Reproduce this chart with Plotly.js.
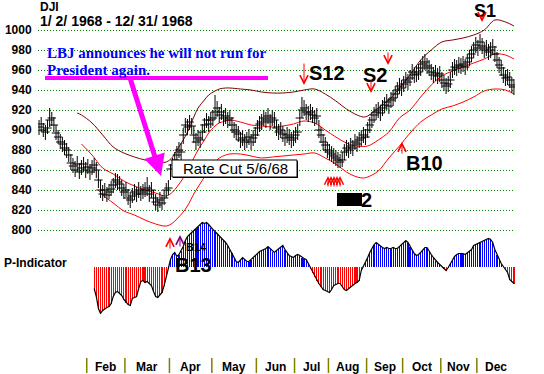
<!DOCTYPE html>
<html><head><meta charset="utf-8">
<script src="https://cdn.plot.ly/plotly-3.0.1.min.js"></script>
<style>html,body{margin:0;padding:0;background:#fff}</style>
</head><body><div id="chart" style="width:544px;height:374px"></div>
<script>
// ---- DJI daily bars 1968 (trading-day index 0..224) ----
const closes=[
903,906,900,898,902,910,912,905,897,893,
888,886,882,880,875,867,864,860,866,858,
862,866,860,863,858,862,865,860,850,840,
836,840,835,838,841,845,850,848,846,842,
838,840,832,830,834,838,836,840,836,838,
840,842,836,840,832,828,825,830,827,832,
840,842,861,865,870,875,880,878,895,905,
903,908,904,895,888,892,890,898,905,910,
906,910,912,918,922,915,918,912,914,910,
912,905,900,898,896,890,892,888,890,893,
888,892,895,902,906,908,912,910,914,908,
912,910,902,898,900,896,892,895,893,890,
892,895,898,912,920,922,918,916,918,915,
912,914,900,895,888,885,880,878,876,874,
872,870,868,870,878,882,880,884,882,888,
886,890,892,895,893,900,905,910,915,918,
920,917,922,925,928,924,930,932,936,940,
944,942,946,950,948,952,958,955,956,958,
962,966,968,964,962,958,955,957,954,956,
950,947,944,946,950,960,963,962,965,964,
966,963,968,972,976,980,985,982,988,984,
980,982,978,980,983,976,970,965,962,955,
952,953,950,945,943];
const highs=[
910,913,907,905,910,922,918,913,905,900,
896,893,890,887,883,876,872,869,874,867,
870,873,868,871,866,870,872,868,860,850,
845,847,843,846,849,852,857,856,854,850,
846,848,841,838,842,846,843,848,844,846,
848,853,845,848,840,836,833,838,835,840,
847,850,866,872,878,884,888,887,902,912,
911,915,912,904,897,900,898,906,912,917,
914,918,920,935,929,923,926,920,922,918,
920,913,908,906,904,898,900,896,898,901,
896,900,903,910,914,916,920,918,922,916,
920,918,910,906,908,904,900,903,901,898,
900,903,906,920,933,930,926,924,926,923,
920,922,910,903,896,893,888,886,884,882,
880,878,876,878,886,890,888,892,890,896,
894,898,900,903,901,908,913,918,923,926,
928,925,930,933,936,932,938,940,944,948,
952,950,954,958,956,960,966,963,964,966,
970,974,976,972,970,966,963,965,962,964,
958,955,952,954,958,968,971,970,973,972,
974,971,976,980,984,988,993,990,996,992,
988,990,986,988,991,984,978,973,970,963,
960,961,958,953,951];
const lows=[
895,898,893,890,896,903,904,898,890,886,
881,878,875,872,868,860,857,853,858,851,
855,858,852,856,850,855,857,852,842,832,
829,832,828,831,834,837,842,840,839,834,
831,833,825,822,827,830,828,832,829,831,
833,834,828,832,825,820,818,822,820,825,
832,835,850,857,862,867,872,870,886,897,
895,900,896,887,880,884,882,890,897,902,
898,902,904,910,913,907,910,904,906,902,
904,897,892,890,888,882,884,880,882,885,
880,884,887,894,898,900,904,902,906,900,
904,902,894,890,892,888,884,887,885,882,
884,887,890,904,912,914,910,908,910,907,
904,906,892,887,880,877,872,870,868,866,
864,862,862,863,870,874,872,876,874,880,
878,882,884,887,885,892,897,902,907,910,
912,909,914,917,920,916,922,924,928,932,
936,934,938,942,940,944,950,947,948,950,
954,958,960,956,954,950,947,949,946,948,
942,939,936,938,942,952,955,954,957,956,
958,955,960,964,968,972,977,974,980,976,
972,974,970,972,975,968,962,957,954,947,
944,945,942,937,935];

// ---- bands ----
const upperDays=[18,20,25,30,35,40,45,50,55,60,63,65,68,70,73,75,78,80,83,85,88,90,95,100,105,110,115,120,125,130,135,140,145,150,153,155,160,165,170,175,180,185,190,195,200,205,210,215,220,224];
const upperVals=[917,915,907,895,883,877,873,870,868,868,873,880,890,898,913,922,930,935,939,941,942,942,941,940,938,937,937,938,940,941,936,929,921,915,913,914,922,930,942,955,970,980,988,990,992,995,1000,1010,1008,1004];
const middleDays=[20,25,30,35,40,45,50,55,60,63,65,68,70,73,75,78,80,83,85,88,90,95,100,105,110,115,120,125,130,135,140,145,150,155,160,165,170,175,180,185,190,195,200,205,210,215,220,224];
const middleVals=[886,875,862,856,849,844,840,837,834,838,843,852,860,872,880,890,897,904,907,909,910,908,905,904,903,904,906,909,907,900,893,887,884,884,890,898,912,920,933,945,954,959,963,967,971,976,975,971];
const lowerDays=[28,30,35,40,45,50,55,60,63,65,68,70,73,75,78,80,83,85,88,90,95,100,105,110,115,120,125,130,135,140,145,150,153,155,160,165,170,175,180,185,190,195,200,205,210,215,220,224];
const lowerVals=[840,835,827,819,815,810,806,804,807,811,818,824,836,843,853,860,868,872,875,876,876,874,872,873,874,875,876,877,872,866,858,853,852,853,859,872,884,897,908,915,921,924,928,933,939,941,940,936];

// ---- P-Indicator (from day 26) ----
const pStart=26;
const pVals=[
-22,-30,-42,-47,-44,-42,-41,-40,-37,-30,
-26,-25,-27,-29,-33,-36,-38,-39,-32,-31,
-30,-22,-15,-14,-16,-15,-17,-19,-25,-30,
-31,-29,-26,-19,-10,-2,7,12,14,10,
12,16,20,26,30,32,34,36,38,40,
42,44,43,44,42,39,37,35,33,30,
28,26,24,21,17,14,9,5,4,7,
9,7,5,5,7,10,12,14,15,16,
17,18,20,18,15,14,16,18,20,21,
17,14,11,10,9,11,12,11,9,8,
7,3,-2,-6,-10,-14,-17,-20,-23,-24,
-25,-26,-23,-19,-18,-17,-17,-20,-23,-24,
-22,-20,-18,-17,-16,-14,-4,0,4,9,
14,18,22,24,22,21,19,18,19,18,
18,19,18,18,20,23,24,26,24,20,
17,13,11,12,14,17,19,19,15,12,
9,6,4,2,0,-2,-4,-1,3,6,
10,12,13,13,13,12,14,16,17,21,
22,23,24,25,26,27,28,27,24,17,
12,7,3,0,-3,-6,-13,-15,-17];

// ---- months ----
const monthNames=['Feb','Mar','Apr','May','Jun','Jul','Aug','Sep','Oct','Nov','Dec'];
const monthFirstDay=[23,41,62,82,103,121,137,155,172,190,207];
const lastDay=224;
const priceTicks=[800,820,840,860,880,900,920,940,960,980,1000];

// ---- geometry helpers (for annotation placement) ----
const L=38,R=515,T=10,B=374;
const px=x=>(x-L)/(R-L), py=y=>(B-y)/(B-T);

const days=closes.map((_,i)=>i);
const hlX=[],hlY=[];
days.forEach(i=>{hlX.push(i,i,null);hlY.push(lows[i],highs[i],null);});
const pDays=pVals.map((_,k)=>pStart+k);

const SANS='Liberation Sans, Arial, sans-serif';
const SERIF='Liberation Serif, Times New Roman, serif';

const traces=[
 {x:upperDays,y:upperVals,mode:'lines',line:{color:'#800000',width:1,shape:'spline'},hoverinfo:'skip'},
 {x:middleDays,y:middleVals,mode:'lines',line:{color:'#ff0000',width:1,shape:'spline'},hoverinfo:'skip'},
 {x:lowerDays,y:lowerVals,mode:'lines',line:{color:'#ff0000',width:1,shape:'spline'},hoverinfo:'skip'},
 {x:hlX,y:hlY,mode:'lines',line:{color:'#000',width:1},hoverinfo:'skip',connectgaps:false},
 {x:days,y:closes,mode:'markers',marker:{symbol:'line-ew',size:6,color:'#000',line:{color:'#000',width:1}},hoverinfo:'skip'},
 {type:'bar',x:pDays,y:pVals,yaxis:'y2',width:0.55,marker:{color:pVals.map(v=>v<0?'#ff0000':'#0000ff'),line:{width:0}},hoverinfo:'skip'},
 {x:pDays,y:pVals,yaxis:'y2',mode:'lines',line:{color:'#000',width:1.2},hoverinfo:'skip'}
];

const ann=[];
const txt=(t,x,y,size,opt={})=>ann.push(Object.assign({text:t,xref:'paper',yref:'paper',x:px(x),y:py(y),showarrow:false,
  xanchor:opt.xanchor||'center',yanchor:'middle',font:{family:opt.family||SANS,size:size,color:opt.color||'#000',weight:opt.weight||'bold'}},opt.extra||{}));
const arrow=(x0,y0,x1,y1,color,w,head,size)=>ann.push({text:'',xref:'paper',yref:'paper',x:px(x1),y:py(y1),ax:x0-x1,ay:y0-y1,
  showarrow:true,arrowcolor:color,arrowwidth:w,arrowhead:head,arrowsize:size,standoff:0,startstandoff:0});

txt('DJI',38,6.5,12,{xanchor:'left'});
txt('1/ 2/ 1968 - 12/ 31/ 1968',38,21,14,{xanchor:'left'});
txt('P-Indicator',2,263,12,{xanchor:'left'});
txt('LBJ announces he will not run for',45,53,15,{xanchor:'left',family:SERIF,color:'#0000ff'});
txt('President again.',45,70,15,{xanchor:'left',family:SERIF,color:'#0000ff'});
txt('Rate Cut 5/6/68',235,168.5,15,{weight:'normal'});
txt('S12',327,73,20);
txt('S2',375,75,20);
txt('S1',485,11,18);
txt('B10',424,163,20);
txt('B13',193,265,20);
txt('B14',196,247,11);
txt('2',366,200,20);
monthNames.forEach((m,k)=>{
  const a=monthFirstDay[k]-0.5, b=(k+1<monthFirstDay.length?monthFirstDay[k+1]:lastDay+1)-0.5;
  ann.push({text:m,xref:'x',yref:'paper',x:(a+b)/2,y:py(366.5),showarrow:false,xanchor:'center',yanchor:'middle',
    font:{family:SANS,size:12,color:'#000',weight:'bold'}});
});
// arrows
arrow(130,78,161,176,'#ff00ff',5,2,0.85);
arrow(304,62,304,85,'#ff0000',1,5,1.6);
arrow(371,79,371,93,'#ff0000',1,5,1.6);
arrow(388,51,388,65,'#ff0000',1,5,1.6);
arrow(482,14,482,22,'#ff0000',1,5,1.6);
arrow(402,155,402,142,'#ff0000',1,5,1.6);
arrow(170,250,170,237,'#ff0000',1,5,1.6);
arrow(180,248,180,235,'#800080',1,5,1.6);
[328,331,334,337,340].forEach(x=>arrow(x,188,x,176,'#ff0000',1,5,1.4));

const shapes=[
 {type:'line',xref:'paper',yref:'paper',x0:px(45),x1:px(268),y0:py(78),y1:py(78),line:{color:'#ff00ff',width:4}},
 {type:'rect',xref:'paper',yref:'paper',x0:px(173),x1:px(298),y0:py(178),y1:py(161),fillcolor:'#000',line:{width:0}},
 {type:'rect',xref:'paper',yref:'paper',x0:px(172),x1:px(297),y0:py(177),y1:py(160),fillcolor:'#fff',line:{color:'#000',width:1}},
 {type:'rect',xref:'paper',yref:'paper',x0:px(337),x1:px(362),y0:py(206),y1:py(193),fillcolor:'#000',line:{width:0}}
];
monthFirstDay.forEach(d=>shapes.push({type:'line',xref:'x',yref:'paper',x0:d-0.5,x1:d-0.5,y0:py(373),y1:py(358),line:{color:'#808000',width:1.5}}));

const layout={
 width:544,height:374,margin:{l:L,r:544-R,t:T,b:374-B},
 paper_bgcolor:'#fff',plot_bgcolor:'#fff',showlegend:false,bargap:0,
 xaxis:{range:[-0.5,lastDay+0.5],showgrid:false,zeroline:false,showticklabels:false,showline:false,ticks:''},
 yaxis:{range:[656,1020],tickmode:'array',tickvals:priceTicks,ticktext:priceTicks.map(String),showgrid:true,
   gridcolor:'#008000',gridwidth:1,griddash:'1px,2px',zeroline:false,showline:false,ticks:'outside',ticklen:3,tickcolor:'rgba(0,0,0,0)',
   tickfont:{family:SANS,size:12,color:'#000',weight:'bold'}},
 yaxis2:{overlaying:'y',range:[-107.5,256.5],visible:false,showgrid:false,zeroline:false},
 annotations:ann,shapes:shapes
};
Plotly.newPlot('chart',traces,layout,{staticPlot:true,displayModeBar:false});
</script></body></html>
